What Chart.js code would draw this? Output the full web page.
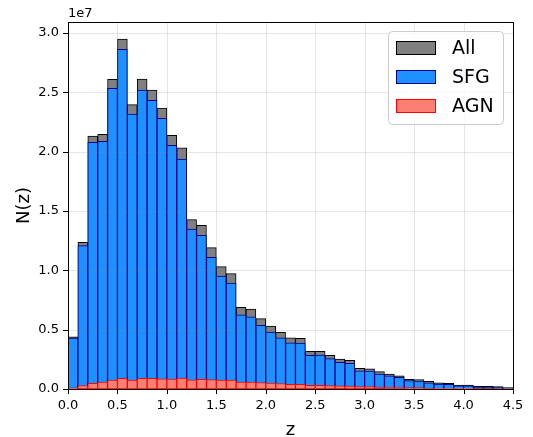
<!DOCTYPE html>
<html>
<head>
<meta charset="utf-8">
<script src="https://cdn.jsdelivr.net/npm/chart.js@4/dist/chart.umd.min.js"></script>
<style>
html,body{margin:0;padding:0;background:#fff;}
#wrap{width:533px;height:437px;position:relative;}
</style>
</head>
<body>
<div id="wrap"><canvas id="c" width="533" height="437"></canvas></div>
<script>
// Bin centres (z), bin width 0.1
const binCenters = [0.05,0.15,0.25,0.35,0.45,0.55,0.65,0.75,0.85,0.95,1.05,1.15,1.25,1.35,1.45,1.55,1.65,1.75,1.85,1.95,2.05,2.15,2.25,2.35,2.45,2.55,2.65,2.75,2.85,2.95,3.05,3.15,3.25,3.35,3.45,3.55,3.65,3.75,3.85,3.95,4.05,4.15,4.25,4.35,4.45];
// Counts in units of 1e7
const allCounts = [0.44,1.236,2.132,2.146,2.61,2.949,2.396,2.612,2.52,2.368,2.138,2.033,1.427,1.379,1.191,1.031,0.972,0.688,0.674,0.593,0.531,0.478,0.432,0.427,0.318,0.318,0.284,0.253,0.242,0.174,0.169,0.146,0.126,0.112,0.082,0.08,0.065,0.053,0.048,0.034,0.034,0.022,0.022,0.02,0.011];
const sfgCounts = [0.43,1.208,2.079,2.087,2.534,2.863,2.317,2.52,2.433,2.281,2.054,1.938,1.348,1.295,1.11,0.952,0.893,0.626,0.609,0.537,0.479,0.431,0.389,0.386,0.284,0.285,0.256,0.225,0.216,0.154,0.152,0.126,0.11,0.098,0.07,0.067,0.053,0.042,0.04,0.027,0.027,0.017,0.017,0.013,0.008];
const agnCounts = [0.01,0.028,0.048,0.058,0.075,0.089,0.076,0.09,0.09,0.085,0.083,0.093,0.077,0.081,0.079,0.075,0.075,0.059,0.059,0.055,0.049,0.046,0.04,0.04,0.031,0.031,0.028,0.027,0.025,0.02,0.02,0.017,0.016,0.014,0.011,0.011,0.008,0.007,0.006,0.005,0.005,0.004,0.004,0.003,0.003];
const seriesNames = ['All','SFG','AGN'];
const xLabel = 'z';
const yLabel = 'N(z)';
const yExponent = '1e7';

const FONT = "'DejaVu Sans', sans-serif";
const styles = {
  All: {bg:'#808080', border:'#000000'},
  SFG: {bg:'#1E90FF', border:'#00008B'},
  AGN: {bg:'#FA8072', border:'#FF0000'}
};
const seriesData = {All: allCounts, SFG: sfgCounts, AGN: agnCounts};

function pts(arr){ return binCenters.map((x,i)=>({x:x, y:arr[i]})); }

// Datasets drawn from last index to first: put All last so it is drawn behind
const drawOrder = ['AGN','SFG','All'];
const datasets = drawOrder.map(n => ({
  label: n,
  data: pts(seriesData[n]),
  backgroundColor: styles[n].bg,
  borderColor: styles[n].border,
  borderWidth: 1,
  borderSkipped: false,
  barPercentage: 1.0,
  categoryPercentage: 1.0,
  grouped: false
}));

const decor = {
  id: 'decor',
  afterDatasetsDraw(chart){
    const ctx = chart.ctx, a = chart.chartArea;
    const xs = chart.scales.x, ys = chart.scales.y;
    ctx.save();
    // grid over bars (matplotlib style)
    ctx.strokeStyle = 'rgba(128,128,128,0.2)';
    ctx.lineWidth = 1;
    xs.ticks.forEach(t => {
      const px = Math.round(xs.getPixelForValue(t.value)) + 0.5;
      ctx.beginPath(); ctx.moveTo(px, a.top); ctx.lineTo(px, a.bottom); ctx.stroke();
    });
    ys.ticks.forEach(t => {
      const py = Math.round(ys.getPixelForValue(t.value)) + 0.5;
      ctx.beginPath(); ctx.moveTo(a.left, py); ctx.lineTo(a.right, py); ctx.stroke();
    });
    // ticks
    ctx.strokeStyle = '#000';
    xs.ticks.forEach(t => {
      const px = Math.round(xs.getPixelForValue(t.value)) + 0.5;
      ctx.beginPath(); ctx.moveTo(px, a.bottom); ctx.lineTo(px, a.bottom + 5); ctx.stroke();
    });
    ys.ticks.forEach(t => {
      const py = Math.round(ys.getPixelForValue(t.value)) + 0.5;
      ctx.beginPath(); ctx.moveTo(a.left - 5, py); ctx.lineTo(a.left, py); ctx.stroke();
    });
    // frame
    ctx.strokeStyle = '#000';
    ctx.strokeRect(Math.round(a.left) + 0.5, Math.round(a.top) + 0.5, Math.round(a.right - a.left), Math.round(a.bottom - a.top));
    // exponent
    ctx.fillStyle = '#000';
    ctx.font = '13px ' + FONT;
    ctx.textAlign = 'left'; ctx.textBaseline = 'alphabetic';
    ctx.fillText(yExponent, a.left, 17);
    // axis titles
    ctx.font = '18px ' + FONT;
    ctx.textAlign = 'center';
    ctx.textBaseline = 'alphabetic';
    ctx.fillText(xLabel, (a.left + a.right) / 2, 435);
    ctx.save();
    ctx.translate(29, (a.top + a.bottom) / 2);
    ctx.rotate(-Math.PI / 2);
    ctx.fillText(yLabel, 0, 0);
    ctx.restore();
    // legend
    const lx = 388.5, ly = 31.5, lw = 115, lh = 93, r = 4;
    ctx.fillStyle = 'rgba(255,255,255,0.8)';
    ctx.strokeStyle = '#cccccc';
    ctx.beginPath();
    ctx.moveTo(lx + r, ly);
    ctx.lineTo(lx + lw - r, ly); ctx.quadraticCurveTo(lx + lw, ly, lx + lw, ly + r);
    ctx.lineTo(lx + lw, ly + lh - r); ctx.quadraticCurveTo(lx + lw, ly + lh, lx + lw - r, ly + lh);
    ctx.lineTo(lx + r, ly + lh); ctx.quadraticCurveTo(lx, ly + lh, lx, ly + lh - r);
    ctx.lineTo(lx, ly + r); ctx.quadraticCurveTo(lx, ly, lx + r, ly);
    ctx.closePath(); ctx.fill(); ctx.stroke();
    ctx.font = '19px ' + FONT;
    ctx.textAlign = 'left'; ctx.textBaseline = 'middle';
    seriesNames.forEach((n, i) => {
      const cy = 48 + i * 29;
      ctx.fillStyle = styles[n].bg;
      ctx.fillRect(396, cy - 7, 40, 14);
      ctx.strokeStyle = styles[n].border;
      ctx.strokeRect(396.5, cy - 6.5, 39, 13);
      ctx.fillStyle = '#000';
      ctx.fillText(n, 452, cy + 1);
    });
    ctx.restore();
  }
};

new Chart(document.getElementById('c'), {
  type: 'bar',
  data: { datasets: datasets },
  options: {
    responsive: false,
    animation: false,
    devicePixelRatio: 1,
    layout: { padding: { left: 0, top: 22, right: 20, bottom: 0 } },
    plugins: { legend: { display: false }, tooltip: { enabled: false } },
    scales: {
      x: {
        type: 'linear', min: 0, max: 4.5, offset: false,
        grid: { display: false, offset: false, drawTicks: false },
        border: { display: false },
        ticks: { stepSize: 0.5, includeBounds: false, padding: 9, color: '#000', font: { family: FONT, size: 13 },
          callback: v => Number(v).toFixed(1), maxRotation: 0, autoSkip: false },
        afterFit: s => { s.height = 48; }
      },
      y: {
        type: 'linear', min: 0, max: 3.093,
        grid: { display: false, drawTicks: false },
        border: { display: false },
        ticks: { stepSize: 0.5, includeBounds: false, padding: 9, color: '#000', font: { family: FONT, size: 13 },
          callback: v => Number(v).toFixed(1) },
        afterFit: s => { s.width = 68; }
      }
    }
  },
  plugins: [decor]
});
</script>
</body>
</html>
